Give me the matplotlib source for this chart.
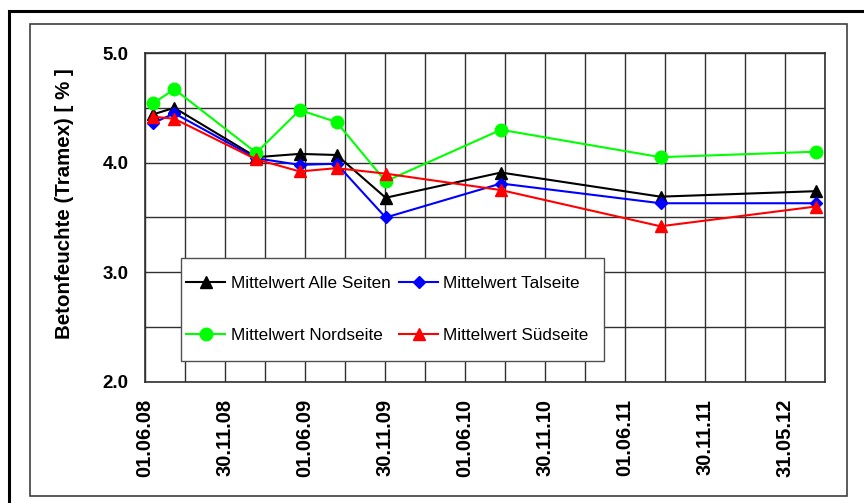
import matplotlib
matplotlib.use('Agg')
import matplotlib.pyplot as plt
import matplotlib.dates as mdates
from matplotlib.patches import Rectangle
from matplotlib.ticker import FixedLocator, FuncFormatter
import numpy as np
import datetime as dt

plt.rcParams['font.family'] = ['Liberation Sans', 'DejaVu Sans']

dates = ['2008-06-19', '2008-08-07', '2009-02-10', '2009-05-20', '2009-08-12',
         '2009-12-02', '2010-08-22', '2011-08-21', '2012-08-09']
alle = [4.44, 4.50, 4.05, 4.08, 4.07, 3.68, 3.91, 3.69, 3.74]
tal = [4.36, 4.45, 4.04, 3.98, 3.99, 3.50, 3.81, 3.63, 3.63]
nord = [4.54, 4.67, 4.09, 4.48, 4.37, 3.83, 4.30, 4.05, 4.10]
sued = [4.42, 4.40, 4.03, 3.92, 3.95, 3.90, 3.75, 3.42, 3.60]

x = mdates.date2num([dt.datetime.strptime(d, '%Y-%m-%d') for d in dates])

# Achse wie in Excel: Start 01.06.08, Hauptintervall 182,5 Tage
x0 = mdates.date2num(dt.datetime(2008, 6, 1))
major = x0 + np.arange(9) * 182.5
minor = x0 + np.arange(18) * 91.25

fig = plt.figure(figsize=(8.64, 5.03), dpi=100)
ax = fig.add_axes([145 / 864, 121 / 503, 680 / 864, 329 / 503])

ax.plot(x, alle, '-^', color='black', lw=1.5, ms=8, label='Mittelwert Alle Seiten', zorder=3)
ax.plot(x, tal, '-D', color='blue', lw=1.5, ms=6.5, label='Mittelwert Talseite', zorder=4)
ax.plot(x, nord, '-o', color='#00ff00', lw=1.5, ms=9, label='Mittelwert Nordseite', zorder=5)
ax.plot(x, sued, '-^', color='red', lw=1.5, ms=8, label='Mittelwert Südseite', zorder=6)

ax.set_xlim(x0, x0 + 17 * 91.25)
ax.set_ylim(2.0, 5.0)
ax.xaxis.set_major_locator(FixedLocator(major))
ax.xaxis.set_minor_locator(FixedLocator(minor))
ax.xaxis.set_major_formatter(FuncFormatter(lambda v, p: mdates.num2date(v).strftime('%d.%m.%y')))
ax.yaxis.set_major_locator(FixedLocator([2.0, 3.0, 4.0, 5.0]))
ax.yaxis.set_minor_locator(FixedLocator([2.5, 3.5, 4.5]))
ax.yaxis.set_major_formatter(FuncFormatter(lambda v, p: f'{v:.1f}'))

ax.grid(True, which='both', color='#303030', lw=1.0)
ax.set_axisbelow(True)
ax.tick_params(which='both', length=0)
ax.tick_params(axis='y', pad=12, labelsize=13.5)
ax.tick_params(axis='x', pad=12, labelsize=14.5, rotation=90)
for t in ax.get_xticklabels() + ax.get_yticklabels():
    t.set_fontweight('bold')
for s in ax.spines.values():
    s.set_color('#303030')
    s.set_linewidth(1.2)

fig.text(65 / 864, 1 - 204 / 503, 'Betonfeuchte (Tramex) [ % ]', rotation=90,
         ha='center', va='center', fontsize=14.75, fontweight='bold')

# Legende mit eigenem Rahmen
ax.add_patch(Rectangle((0.053, 0.064), 0.622, 0.313, transform=ax.transAxes,
                       fc='white', ec='#505050', lw=1.0, zorder=7))
h, l = ax.get_legend_handles_labels()
order = [0, 2, 1, 3]
leg = ax.legend([h[i] for i in order], [l[i] for i in order], ncol=2,
                loc='center left', bbox_to_anchor=(0.053, 0.2204), borderaxespad=0,
                fontsize=12.3, handlelength=2.3, handletextpad=0.3, columnspacing=0.5,
                labelspacing=2.2, borderpad=0.3, frameon=False)
leg.set_zorder(8)

# Rahmen
fig.add_artist(Rectangle((9 / 864, -0.1), 1.2, 1 - 11 / 503 + 0.1, transform=fig.transFigure,
                         fill=False, lw=2.2, ec='black'))
fig.add_artist(Rectangle((30 / 864, 7 / 503), 817 / 864, 472 / 503, transform=fig.transFigure,
                         fill=False, lw=1.2, ec='#404040'))

fig.savefig('out.png', dpi=100)
